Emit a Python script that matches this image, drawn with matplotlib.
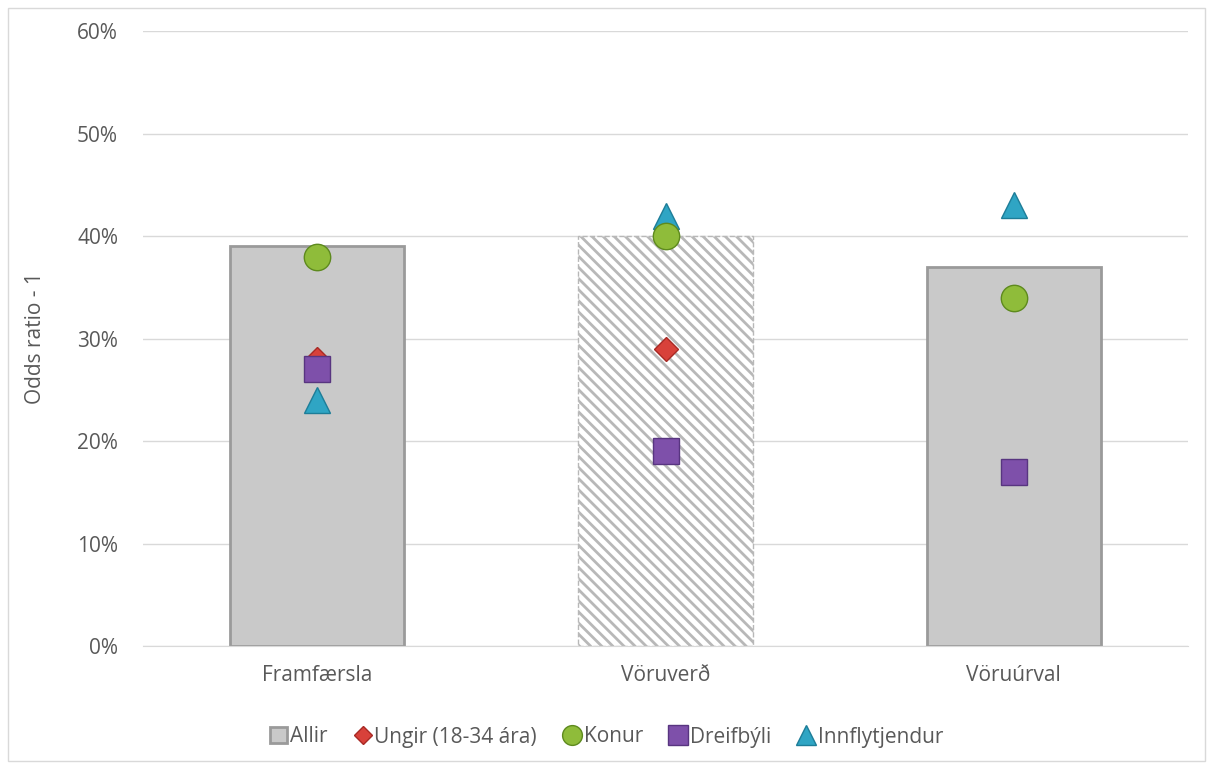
import numpy as np
import matplotlib.pyplot as plt
from matplotlib.patches import Rectangle
from matplotlib.ticker import PercentFormatter

# data (values in %)
categories = ['Framfærsla', 'Vöruverð', 'Vöruúrval']
allir = [39, 40, 37]
ungir = [28, 29, np.nan]
konur = [38, 40, 34]
dreifbyli = [27, 19, 17]
innflytjendur = [24, 42, 43]

plt.rcParams['font.family'] = ['Open Sans', 'DejaVu Sans']
plt.rcParams['hatch.linewidth'] = 2.0
plt.rcParams['hatch.color'] = '#b8b8b8'

fig = plt.figure(figsize=(12.13, 7.69), dpi=100)
ax = fig.add_axes([143/1213, 1 - 646/769, (1188-143)/1213, (646-31)/769])

x = np.arange(len(categories))
bars = ax.bar(x, allir, width=0.5, color='#c9c9c9', edgecolor='#9a9a9a',
              linewidth=2, zorder=2, label='Allir')
# middle bar is hatched
bars[1].set_facecolor('white')
bars[1].set_hatch('\\\\\\')
bars[1].set_edgecolor('#b8b8b8')
bars[1].set_linewidth(1.0)
bars[1].set_linestyle('--')

ax.plot(x, ungir, 'D', color='#d8413a', markeredgecolor='#a82a25', markersize=12, zorder=4,
        label='Ungir (18-34 ára)')
ax.plot(x, konur, 'o', color='#8fbc3a', markeredgecolor='#5e8a1e', markersize=19, zorder=4,
        label='Konur')
ax.plot(x, dreifbyli, 's', color='#7e50aa', markeredgecolor='#583580', markersize=19, zorder=5,
        label='Dreifbýli')
ax.plot(x, innflytjendur, '^', color='#2fa5c4', markeredgecolor='#1d7d98', markersize=19, zorder=3,
        label='Innflytjendur')

ax.set_xlim(-0.5, 2.5)
ax.set_ylim(0, 60)
ax.set_yticks(range(0, 61, 10))
ax.yaxis.set_major_formatter(PercentFormatter(decimals=0))
ax.set_xticks(x)
ax.set_xticklabels(categories)
ax.tick_params(axis='y', length=0, labelsize=15, colors='#595959', pad=18)
ax.tick_params(axis='x', length=0, labelsize=15, colors='#595959', pad=14)
ax.grid(axis='y', color='#d9d9d9', linewidth=1, zorder=0)
ax.set_axisbelow(True)
for s in ['top', 'right', 'left']:
    ax.spines[s].set_visible(False)
ax.spines['bottom'].set_color('#d9d9d9')
ax.set_ylabel('Odds ratio - 1', fontsize=15, color='#595959')
ax.yaxis.set_label_coords(-0.093, 0.5)

handles, labels = ax.get_legend_handles_labels()
order = [4, 0, 1, 2, 3]
leg = fig.legend([handles[i] for i in order], [labels[i] for i in order],
                 loc='center', bbox_to_anchor=(0.5, 1 - 737/769), ncol=5, frameon=False,
                 fontsize=15, handletextpad=0.15, columnspacing=1.3, handlelength=0.8,
                 handleheight=0.8, markerscale=0.75)
for t in leg.get_texts():
    t.set_color('#595959')

# outer chart border
fig.patches.append(Rectangle((8/1213, 8/769), 1 - 16/1213, 1 - 16/769, transform=fig.transFigure,
                             fill=False, edgecolor='#d9d9d9', linewidth=1))

fig.savefig('out.png', dpi=100)
